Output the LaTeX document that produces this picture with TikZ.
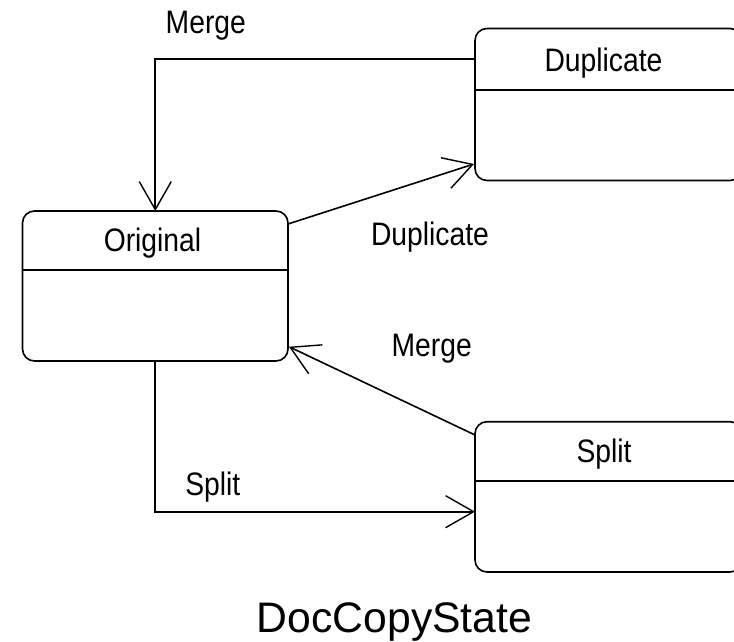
\documentclass[tikz,border=0pt]{standalone}
\usepackage{fontspec}
\setmainfont{Liberation Sans}
\newfontfamily\lblfont[FakeStretch=0.87]{Liberation Sans}
\usetikzlibrary{arrows.meta}

\tikzset{
  statebox/.style={draw, line width=1.6pt, rounded corners=12pt,
    inner sep=0pt, outer sep=0pt, anchor=north west},
  divider/.style={line width=1.6pt},
  lbl/.style={inner sep=0pt, anchor=base, font=\lblfont\fontsize{32.5}{32.5}\selectfont},
  conn/.style={line width=1.6pt, -{Straight Barb[length=28pt,width=32pt,line width=1.4pt]}},
}

\begin{document}
\begin{tikzpicture}[x=1pt, y=-1pt]
  \useasboundingbox (0,0) rectangle (734,642);
  \clip (0,0) rectangle (734,642);

  % states (the two on the right run past the page edge)
  \node[statebox, minimum width=265.5pt, minimum height=150pt] (orig)  at (22.5,211)  {};
  \node[statebox, minimum width=267pt,   minimum height=152pt] (dup)   at (475,28.5)  {};
  \node[statebox, minimum width=267pt,   minimum height=150.3pt] (split) at (475,421.7) {};

  % compartment dividers
  \draw[divider] (orig.west |- 0,270) -- (orig.east |- 0,270);
  \draw[divider] (dup.west |- 0,90)   -- (dup.east |- 0,90);
  \draw[divider] (split.west |- 0,481) -- (split.east |- 0,481);

  % state names
  \node[lbl] (origName)  at (152.5,251.7) {Original};
  \node[lbl] (dupName)   at (603.5,71.6)  {Duplicate};
  \node[lbl] (splitName) at (604,462)     {Split};

  % connector end points on the state borders
  \coordinate (dupOut)   at (475,59);
  \coordinate (origOutR) at (288,224);
  \coordinate (dupIn)    at (474,164);
  \coordinate (splitOut) at (475,435);
  \coordinate (origInR)  at (289,346.7);
  \coordinate (splitIn)  at (475,511.7);

  % transitions
  \draw[conn] (dupOut) -| (orig.north);
  \draw[conn] (origOutR) -- (dupIn);
  \draw[conn] (splitOut) -- (origInR);
  \draw[conn] (orig.south) |- (splitIn);

  % transition labels
  \node[lbl] (lMergeTop) at (205.8,33.3)  {Merge};
  \node[lbl] (lDup)      at (430,245)     {Duplicate};
  \node[lbl] (lMergeLow) at (431.7,356.7) {Merge};
  \node[lbl] (lSplit)    at (212.8,495)   {Split};

  % diagram title
  \node[inner sep=0pt, anchor=base, font=\fontsize{42.7}{42.7}\selectfont]
    (title) at (394.5,632) {DocCopyState};
\end{tikzpicture}
\end{document}
